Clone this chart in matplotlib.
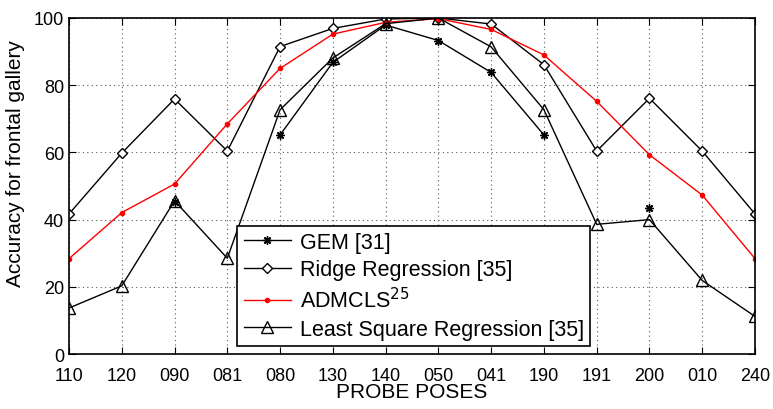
import numpy as np
import matplotlib.pyplot as plt

plt.rcParams['font.family'] = ['Liberation Sans', 'DejaVu Sans']

poses = ['110', '120', '090', '081', '080', '130', '140', '050', '041', '190', '191', '200', '010', '240']
nan = np.nan
gem = [nan, nan, 45.3, nan, 65.2, 86.8, 97.9, 93.3, 83.8, 65.2, nan, 43.4, nan, nan]
ridge = [41.7, 59.8, 75.9, 60.4, 91.5, 96.9, 99.7, 100, 98.2, 86.1, 60.4, 76.1, 60.4, 41.7]
admcls = [28.4, 42.1, 50.6, 68.5, 85.0, 95.2, 98.7, 99.8, 96.6, 89.0, 75.2, 59.3, 47.3, 28.4]
lsr = [13.7, 20.3, 45.6, 28.5, 72.7, 88.1, 98.3, 100, 91.4, 72.7, 38.6, 40.0, 21.9, 11.2]

x = np.arange(len(poses))

fig = plt.figure(figsize=(7.73, 4.10), dpi=100)
ax = fig.add_axes([0.0893, 0.134, 0.8874, 0.8197])

ax.plot(x, gem, color='black', marker=(8, 2, 0), markersize=6, markeredgewidth=1, lw=1,
        label='GEM [31]')
ax.plot(x, ridge, color='black', marker='D', markersize=5.5, mfc='white', mew=1, lw=1,
        label='Ridge Regression [35]')
ax.plot(x, admcls, color='red', marker='.', markersize=6, lw=1, label='ADMCLS$^{25}$')
ax.plot(x, lsr, color='black', marker='^', markersize=8, mfc='none', mew=1, lw=1,
        label='Least Square Regression [35]')

ax.set_xlim(0, len(poses) - 1)
ax.set_ylim(0, 100)
ax.set_xticks(x)
ax.set_xticklabels(poses)
ax.set_yticks([0, 20, 40, 60, 80, 100])
ax.tick_params(direction='in', top=True, right=True, labelsize=13, length=5)
ax.tick_params(axis='x', pad=9)
ax.grid(True, linestyle=(0, (1, 3)), color='0.35', lw=0.8)
for s in ax.spines.values():
    s.set_linewidth(1.2)

ax.set_xlabel('PROBE POSES', fontsize=15, labelpad=-1)
ax.set_ylabel('Accuracy for frontal gallery', fontsize=15)
ax.yaxis.set_label_coords(-0.064, 0.571)

leg = ax.legend(loc='lower left', bbox_to_anchor=(0.245, 0.024), fontsize=15.5, fancybox=False,
                framealpha=1, edgecolor='black', handlelength=2.2, handletextpad=0.4,
                labelspacing=0.3, borderaxespad=0, borderpad=0.3)
leg.get_frame().set_linewidth(1.2)

fig.savefig('out.png', dpi=100)
